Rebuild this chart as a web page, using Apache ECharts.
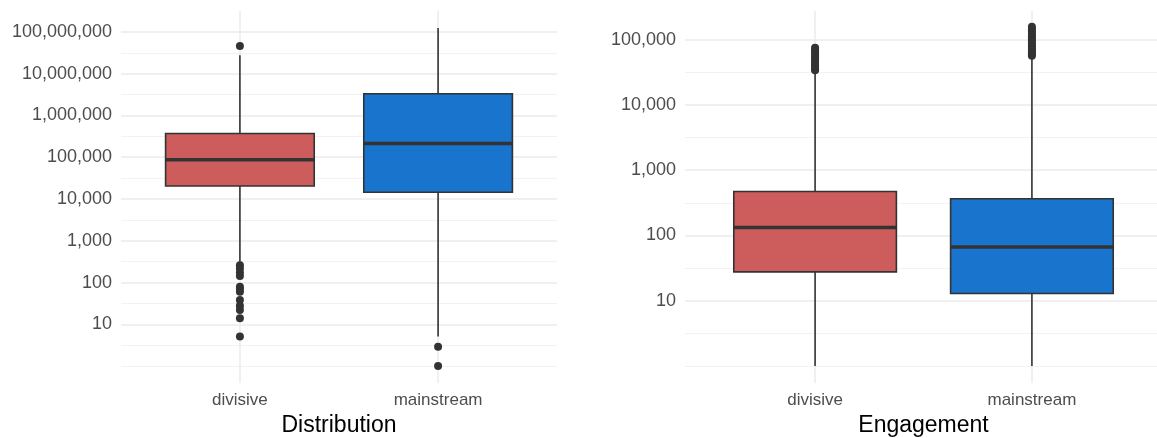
<!DOCTYPE html>
<html>
<head>
<meta charset="utf-8">
<title>Distribution / Engagement</title>
<script src="https://cdn.jsdelivr.net/npm/echarts@6.0.0/dist/echarts.min.js"></script>
<style>
  html, body { margin: 0; padding: 0; background: #fff; }
  #chart { width: 1157px; height: 438px; }
</style>
</head>
<body>
<div id="chart"></div>
<script>
// 分类
var categories = ['divisive', 'mainstream'];
var fills = ['#CD5C5C', '#1874CD'];

// Distribution: [下须, Q1, 中位数, Q3, 上须]
var distDivisive = [310, 20500, 87000, 369000, 27700000];
var distMainstream = [5.1, 14500, 213000, 3310000, 124000000];
var distOutDivisive = [46000000, 259, 216, 173, 144, 79, 70, 60, 38, 28, 22, 14, 5.1];
var distOutMainstream = [2.9, 1];

// Engagement
var engDivisive = [1, 27.7, 133, 472, 33000];
var engMainstream = [1, 12.9, 66.7, 365, 56000];
var engOutDivisive = [34000, 36000, 38500, 41000, 44000, 47000, 51000, 55000, 60000, 66000, 71000, 75500];
var engOutMainstream = [57000, 60000, 64000, 68000, 73000, 78000, 84000, 90000, 97000, 105000,
  113000, 122000, 132000, 145000, 158000];

// 刻度
var distMajor = [1, 2, 3, 4, 5, 6, 7, 8];
var distMinor = [0, 0.5, 1.5, 2.5, 3.5, 4.5, 5.5, 6.5, 7.5];
var engMajor = [1, 2, 3, 4, 5];
var engMinor = [0, 0.5, 1.5, 2.5, 3.5, 4.5];

var font = "'Liberation Sans', Arial, sans-serif";
var boxWidth = 0.75;

function log10(v) { return Math.log10(v); }

function boxRow(x, arr) {
  return [x].concat(arr.map(log10));
}

function outRows(x, arr) {
  return arr.map(function (v) { return [x, log10(v)]; });
}

// 自定义箱线图 (无须端横线, 中位线加粗)
function renderBox(params, api) {
  var x = api.value(0);
  var lo = api.coord([x, api.value(1)]);
  var q1 = api.coord([x, api.value(2)]);
  var md = api.coord([x, api.value(3)]);
  var q3 = api.coord([x, api.value(4)]);
  var hi = api.coord([x, api.value(5)]);
  var w = api.size([boxWidth, 0])[0];
  var cx = q1[0];
  var stroke = { stroke: '#333333', lineWidth: 1.6 };
  return {
    type: 'group',
    children: [
      { type: 'line', shape: { x1: cx, y1: q3[1], x2: cx, y2: hi[1] }, style: stroke },
      { type: 'line', shape: { x1: cx, y1: q1[1], x2: cx, y2: lo[1] }, style: stroke },
      {
        type: 'rect',
        shape: { x: cx - w / 2, y: q3[1], width: w, height: q1[1] - q3[1] },
        style: { fill: fills[x - 1], stroke: '#333333', lineWidth: 1.6 }
      },
      {
        type: 'line',
        shape: { x1: cx - w / 2, y1: md[1], x2: cx + w / 2, y2: md[1] },
        style: { stroke: '#333333', lineWidth: 3.5 }
      }
    ]
  };
}

function makeX(gridIndex, title) {
  return {
    type: 'value', gridIndex: gridIndex, min: 0.4, max: 2.6,
    name: title, nameLocation: 'middle', nameGap: 30,
    nameTextStyle: { color: '#000', fontSize: 23, fontFamily: font },
    axisLine: { show: false },
    axisTick: { show: false, customValues: [1, 2] },
    axisLabel: {
      customValues: [1, 2], margin: 9,
      color: '#4D4D4D', fontSize: 17, fontFamily: font,
      formatter: function (v) { return categories[Math.round(v) - 1]; }
    },
    splitLine: { show: true, lineStyle: { color: '#EBEBEB', width: 1.5 } }
  };
}

function makeYMajor(gridIndex, min, max, ticks) {
  return {
    type: 'value', gridIndex: gridIndex, position: 'left', min: min, max: max,
    axisLine: { show: false },
    axisTick: { show: false, customValues: ticks },
    axisLabel: {
      customValues: ticks, margin: 9,
      color: '#4D4D4D', fontSize: 18, fontFamily: font,
      formatter: function (v) { return Math.round(Math.pow(10, v)).toLocaleString('en-US'); }
    },
    splitLine: { show: true, lineStyle: { color: '#EBEBEB', width: 1.5 } }
  };
}

function makeYMinor(gridIndex, min, max, ticks) {
  return {
    type: 'value', gridIndex: gridIndex, position: 'left', min: min, max: max,
    axisLine: { show: false },
    axisTick: { show: false, customValues: ticks },
    axisLabel: { show: false },
    splitLine: { show: true, lineStyle: { color: '#F2F2F2', width: 1 } }
  };
}

var chart = echarts.init(document.getElementById('chart'), null, { renderer: 'canvas' });

var option = {
  animation: false,
  backgroundColor: '#ffffff',
  grid: [
    { left: 121, top: 11, width: 436, height: 372, outerBoundsMode: 'none' },
    { left: 685, top: 11, width: 477, height: 372, outerBoundsMode: 'none' }
  ],
  xAxis: [
    makeX(0, 'Distribution'),
    makeX(1, 'Engagement')
  ],
  yAxis: [
    makeYMinor(0, -0.405, 8.5, distMinor),
    makeYMajor(0, -0.405, 8.5, distMajor),
    makeYMinor(1, -0.26, 5.44, engMinor),
    makeYMajor(1, -0.26, 5.44, engMajor)
  ],
  series: [
    {
      type: 'custom', xAxisIndex: 0, yAxisIndex: 1,
      renderItem: renderBox,
      data: [boxRow(1, distDivisive), boxRow(2, distMainstream)],
      z: 3
    },
    {
      type: 'scatter', xAxisIndex: 0, yAxisIndex: 1,
      symbolSize: 8, itemStyle: { color: '#333333', opacity: 1 },
      data: outRows(1, distOutDivisive).concat(outRows(2, distOutMainstream)),
      z: 4
    },
    {
      type: 'custom', xAxisIndex: 1, yAxisIndex: 3,
      renderItem: renderBox,
      data: [boxRow(1, engDivisive), boxRow(2, engMainstream)],
      z: 3
    },
    {
      type: 'scatter', xAxisIndex: 1, yAxisIndex: 3,
      symbolSize: 8, itemStyle: { color: '#333333', opacity: 1 },
      data: outRows(1, engOutDivisive).concat(outRows(2, engOutMainstream)),
      z: 4
    }
  ]
};

chart.setOption(option);
</script>
</body>
</html>
